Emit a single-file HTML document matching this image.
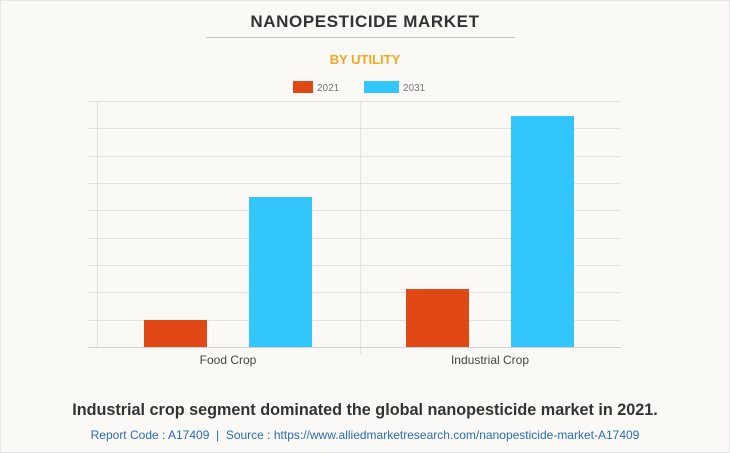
<!DOCTYPE html>
<html><head><style>
body{margin:0;background:#fff;}
.c{position:absolute;left:0;top:0;width:728px;height:451px;border:1px solid #e6e6e6;background:#faf9f5;font-family:"Liberation Sans",sans-serif;}
</style></head><body>
<div class="c"></div>
<svg width="730" height="453" style="position:absolute;left:0;top:0" font-family="Liberation Sans, sans-serif">
<text x="365" y="27" text-anchor="middle" font-size="17" font-weight="bold" fill="#333" letter-spacing="0.6">NANOPESTICIDE MARKET</text>
<line x1="206" y1="37.5" x2="515" y2="37.5" stroke="#c8c8c8"/>
<text x="365" y="64" text-anchor="middle" font-size="13" font-weight="bold" fill="#f5a623">BY UTILITY</text>
<rect x="293" y="81" width="20" height="12" fill="#e04816"/>
<text x="317" y="91" font-size="10" fill="#777">2021</text>
<rect x="364" y="81" width="35" height="12" fill="#33c6fd"/>
<text x="403" y="91" font-size="10" fill="#777">2031</text>
<g stroke="#e2e2e0" stroke-width="1">
<line x1="88" y1="101.5" x2="621" y2="101.5"/>
<line x1="88" y1="128.5" x2="621" y2="128.5"/>
<line x1="88" y1="156.5" x2="621" y2="156.5"/>
<line x1="88" y1="183.5" x2="621" y2="183.5"/>
<line x1="88" y1="210.5" x2="621" y2="210.5"/>
<line x1="88" y1="238.5" x2="621" y2="238.5"/>
<line x1="88" y1="265.5" x2="621" y2="265.5"/>
<line x1="88" y1="292.5" x2="621" y2="292.5"/>
<line x1="88" y1="320.5" x2="621" y2="320.5"/>
<line x1="97.5" y1="101" x2="97.5" y2="347"/>
<line x1="360.5" y1="101" x2="360.5" y2="354"/>
</g>
<line x1="88" y1="347.5" x2="621" y2="347.5" stroke="#d0d0d0"/>
<rect x="144" y="320" width="63" height="27" fill="#e04816"/>
<rect x="249" y="197" width="63" height="150" fill="#33c6fd"/>
<rect x="406" y="289" width="63" height="58" fill="#e04816"/>
<rect x="511" y="116" width="63" height="231" fill="#33c6fd"/>
<text x="228" y="364" text-anchor="middle" font-size="12" fill="#444">Food Crop</text>
<text x="490" y="364" text-anchor="middle" font-size="12" fill="#444">Industrial Crop</text>
<text x="365" y="415" text-anchor="middle" font-size="16.2" font-weight="bold" fill="#333">Industrial crop segment dominated the global nanopesticide market in 2021.</text>
<text x="365" y="439" text-anchor="middle" font-size="12" fill="#2a6db5" xml:space="preserve">Report Code : A17409  |  Source : https://www.alliedmarketresearch.com/nanopesticide-market-A17409</text>
</svg>
</body></html>
